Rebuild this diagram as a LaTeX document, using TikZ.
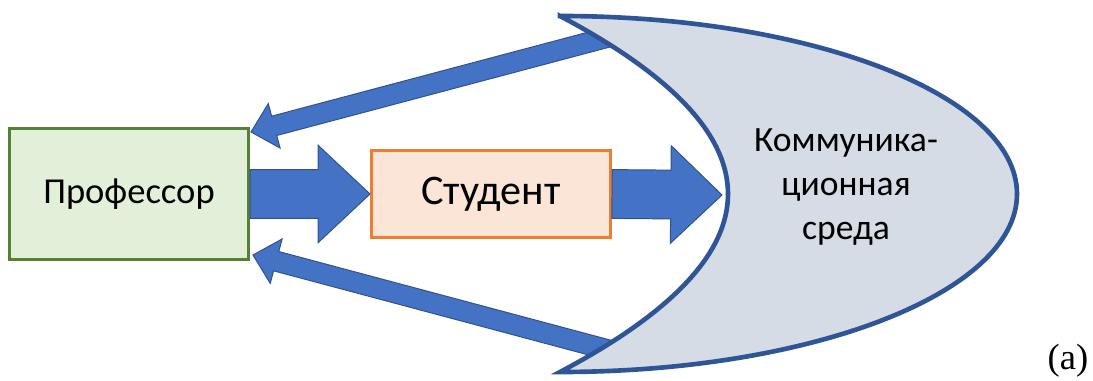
\documentclass[tikz,border=0pt]{standalone}
\usepackage{fontspec}
\setmainfont{Carlito}
\newfontfamily\capfont{Liberation Serif}
\usepackage{tikz}
\usetikzlibrary{calc}
\usetikzlibrary{positioning}

\definecolor{profgreen}{HTML}{548235}
\definecolor{proffill}{HTML}{E2F0D9}
\definecolor{studorange}{HTML}{ED7D31}
\definecolor{studfill}{HTML}{FBE5D6}
\definecolor{arrowblue}{HTML}{4472C4}
\definecolor{arrowedge}{HTML}{2F528F}
\definecolor{envfill}{HTML}{D6DCE5}
\definecolor{envedge}{HTML}{2F5597}

\tikzset{
  box/.style={rectangle, line width=2pt, inner sep=0pt},
  barrow/.style={fill=arrowblue, draw=arrowedge, line width=0.7pt, line join=miter},
  envshape/.style={fill=envfill, draw=envedge, line width=3.3pt, line join=miter}
}

% block arrow: tail, tip, shaft half width, head half width, head length
\newcommand{\blockarrow}[5]{%
  \coordinate (hb) at ($(#2)!#5!(#1)$);
  \filldraw[barrow] ($(#1)!#3!90:(#2)$) -- ($(hb)!#3!90:(#2)$) -- ($(hb)!#4!90:(#2)$) -- (#2)
    -- ($(hb)!#4!-90:(#2)$) -- ($(hb)!#3!-90:(#2)$) -- ($(#1)!#3!-90:(#2)$) -- cycle;
}

\begin{document}
\begin{tikzpicture}
\useasboundingbox (0,0) rectangle (27.325,9.525);

\node[box, draw=profgreen, fill=proffill, minimum width=5.98cm, minimum height=3.28cm,
  font=\fontsize{26}{31}\selectfont] (prof) at (3.225,4.675) {Профессор};
\node[box, draw=studorange, fill=studfill, minimum width=5.98cm, minimum height=2.16cm,
  font=\fontsize{30}{36}\selectfont, right=3cm of prof] (stud) {Студент};

\coordinate (envin) at (18.05,4.65);
\coordinate (envtop) at (15.5,8.675);
\coordinate (envbot) at (15.5,0.7);
\coordinate (ptop) at (6.275,6.225);
\coordinate (pbot) at (6.325,3.15);

\blockarrow{prof.east}{stud.west}{0.61cm}{1.22cm}{1.3cm}
\blockarrow{stud.east}{envin}{0.61cm}{1.22cm}{1.28cm}
\blockarrow{envtop}{ptop}{0.25cm}{0.575cm}{0.6cm}
\blockarrow{envbot}{pbot}{0.25cm}{0.575cm}{0.6cm}

% environment
\filldraw[envshape] (14,9.125) .. controls (19.6,6.16) and (19.6,3.19) .. (14,0.225)
  arc[start angle=-90, end angle=90, x radius=11.425, y radius=4.45] -- cycle;
\node[align=center, font=\fontsize{25.3}{31.5}\selectfont] (env) at (21.15,4.85)
  {Коммуника-\\ционная\\среда};

\node[font=\capfont\fontsize{26}{30}\selectfont] (cap) at (26.7,0.5) {(a)};
\end{tikzpicture}
\end{document}
